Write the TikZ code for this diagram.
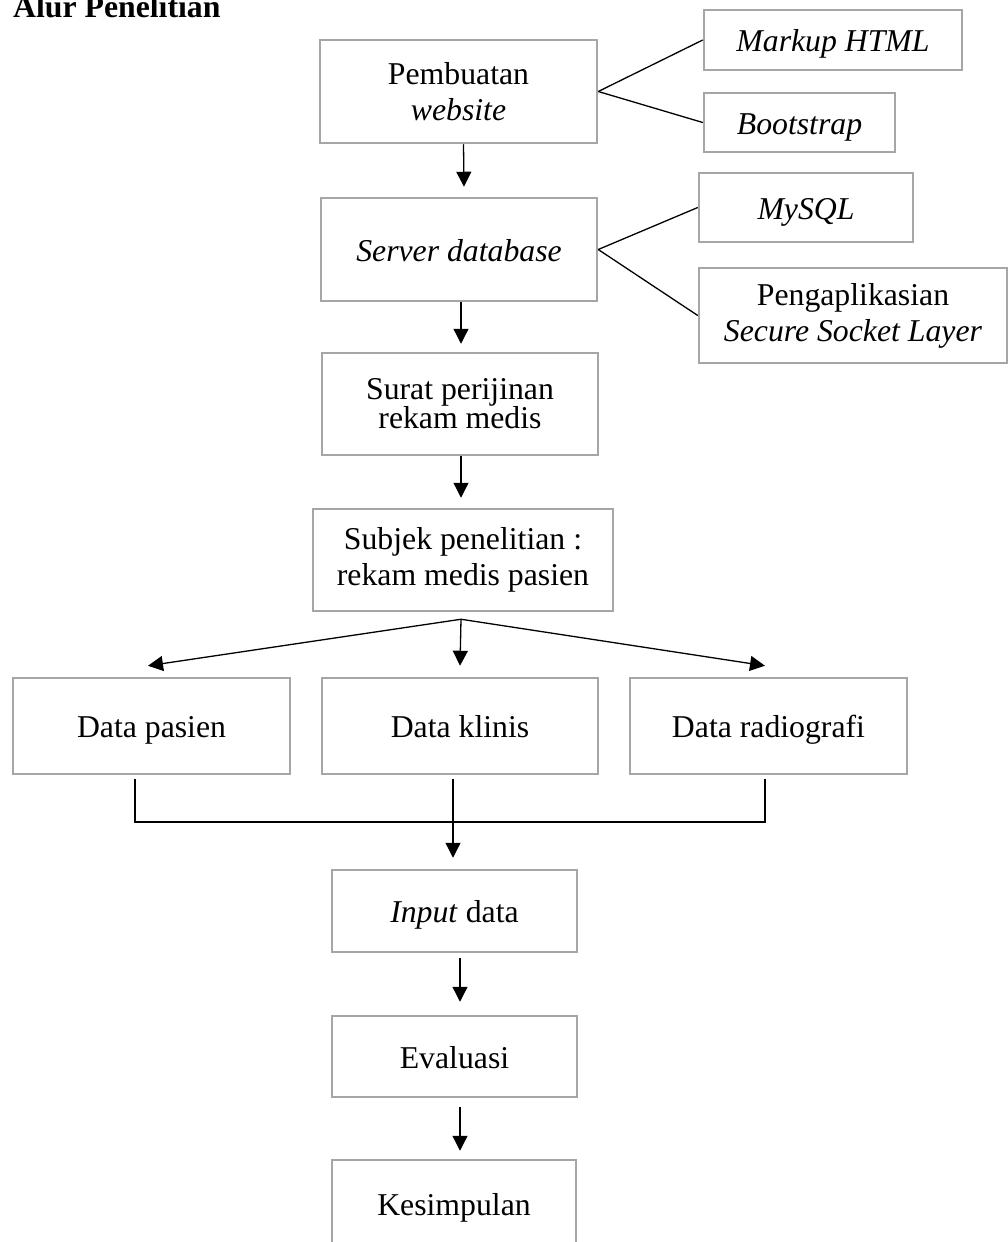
\documentclass[tikz,border=0pt]{standalone}
\usepackage{fontspec}
\setmainfont{Liberation Serif}
\usetikzlibrary{arrows.meta,calc}
\definecolor{boxgray}{RGB}{166,166,166}
\newcommand{\bodyfont}{\fontsize{31.75}{36}\selectfont}
\tikzset{
    flowbox/.style={draw=boxgray, line width=2.5pt, align=center, inner sep=0pt, font=\bodyfont},
    oneline/.style={flowbox, text height=23pt, text depth=0pt},
    conn/.style={line width=1.3pt},
    arr/.style={conn, -{Triangle[length=15pt,width=15pt]}}
}
\begin{document}
\begin{tikzpicture}[x=1pt,y=-1pt]
                \clip (0,0) rectangle (1008,1242);
                \node[anchor=base west, font=\bodyfont\bfseries, inner sep=0pt] (title) at (13,17) {Alur Penelitian};
                \node[flowbox, minimum width=277pt, minimum height=103pt] (web) at (458.5,91.5) {Pembuatan\\\textit{website}};
                \node[oneline, minimum width=258pt, minimum height=60pt] (html) at (833,40) {\textit{Markup HTML}};
                \node[oneline, minimum width=191pt, minimum height=59pt] (boot) at (799.5,122.5) {\textit{Bootstrap}};
                \node[oneline, minimum width=276pt, minimum height=103pt] (server) at (459,249.5) {\textit{Server database}};
                \node[oneline, minimum width=214pt, minimum height=69pt] (mysql) at (806,207.5) {\textit{MySQL}};
                \node[flowbox, minimum width=308pt, minimum height=95pt] (ssl) at (853,315.5) {Pengaplikasian\\\textit{Secure Socket Layer}};
                \node[flowbox, minimum width=276pt, minimum height=102pt] (surat) at (460,404) {Surat perijinan\\[-7pt]rekam medis};
                \node[flowbox, minimum width=300pt, minimum height=102pt] (subjek) at (463,560) {Subjek penelitian :\\rekam medis pasien};
                \node[oneline, minimum width=277pt, minimum height=96pt] (pasien) at (151.5,726) {Data pasien};
                \node[oneline, minimum width=276pt, minimum height=96pt] (klinis) at (460,726) {Data klinis};
                \node[oneline, minimum width=277pt, minimum height=96pt] (radio) at (768.5,726) {Data radiografi};
                \node[oneline, minimum width=245pt, minimum height=82pt] (input) at (454.5,911) {\textit{Input} data};
                \node[oneline, minimum width=245pt, minimum height=81pt] (eval) at (454.5,1056.5) {Evaluasi};
                \node[oneline, minimum width=244pt, minimum height=88pt] (kesim) at (454,1204) {Kesimpulan};
                \draw[conn] (web.east) -- (html.west);
                \draw[conn] (web.east) -- (boot.west);
                \draw[conn] (server.east) -- (mysql.west);
                \draw[conn] (server.east) -- (ssl.west);
                \draw[arr] ([xshift=5pt]web.south) -- ([xshift=5pt,yshift=10pt]server.north);
                \draw[arr] ([xshift=2pt]server.south) -- ([xshift=1pt,yshift=8pt]surat.north);
                \draw[arr] ([xshift=1pt]surat.south) -- ([xshift=-2pt,yshift=10pt]subjek.north);
                \coordinate (fan) at ($(subjek.south)+(-2,7)$);
                \draw[arr] (fan) -- ([xshift=-3.5pt,yshift=11pt]pasien.north);
                \draw[arr] (fan) -- ([xshift=0pt,yshift=11pt]klinis.north);
                \draw[arr] (fan) -- ([xshift=-3.5pt,yshift=11pt]radio.north);
                \coordinate (join) at (453,822);
                \draw[conn] ([xshift=-16.5pt,yshift=-4pt]pasien.south) |- (join) -| ([xshift=-3.5pt,yshift=-4pt]radio.south);
                \draw[arr] ([xshift=-7pt,yshift=-4pt]klinis.south) -- ([xshift=-1.5pt,yshift=11pt]input.north);
                \draw[arr] ([xshift=5.5pt,yshift=-5pt]input.south) -- ([xshift=5.5pt,yshift=13pt]eval.north);
                \draw[arr] ([xshift=5.5pt,yshift=-9pt]eval.south) -- ([xshift=6pt,yshift=8pt]kesim.north);
            \end{tikzpicture}
\end{document}
